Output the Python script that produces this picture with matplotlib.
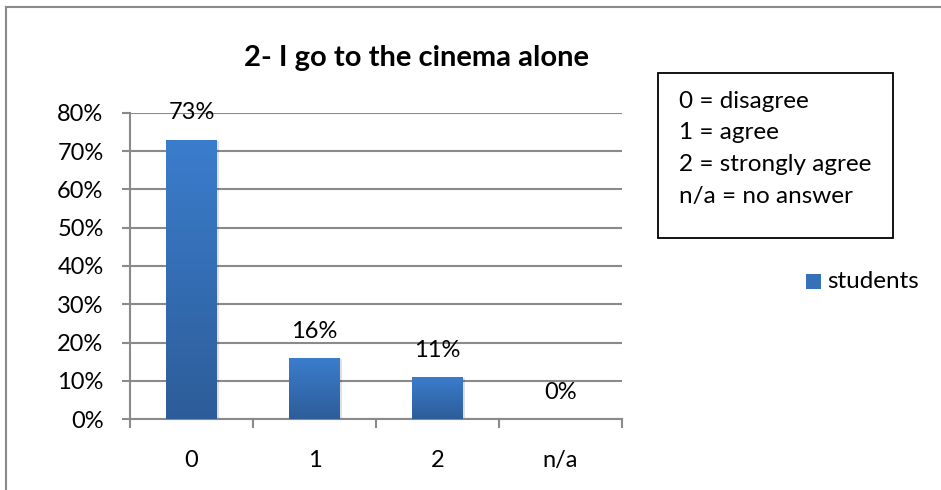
import numpy as np
import matplotlib
matplotlib.use("Agg")
import matplotlib.pyplot as plt
from matplotlib.patches import Rectangle
from matplotlib.colors import LinearSegmentedColormap
from matplotlib.lines import Line2D

categories = ["0", "1", "2", "n/a"]
values = [73, 16, 11, 0]
value_labels = ["73%", "16%", "11%", "0%"]
yticks = [0, 10, 20, 30, 40, 50, 60, 70, 80]
series_name = "students"
title = "2- I go to the cinema alone"
key_lines = ["0 = disagree", "1 = agree", "2 = strongly agree", "n/a = no answer"]

plt.rcParams['font.family'] = ['Lato', 'DejaVu Sans']

W, H = 941, 490
fig = plt.figure(figsize=(W / 100, H / 100), dpi=100)
fig.patch.set_facecolor("white")

# outer chart frame (left and top edges visible)
fig.add_artist(Line2D([6 / W, 6 / W], [0, 1 - 7 / H], transform=fig.transFigure,
                      color="#8a8a8a", lw=1.5))
fig.add_artist(Line2D([6 / W, 1], [1 - 7 / H, 1 - 7 / H], transform=fig.transFigure,
                      color="#8a8a8a", lw=1.5))

left, right = 130, 622
bottom, top = 419, 113
ax = fig.add_axes([left / W, 1 - bottom / H, (right - left) / W, (bottom - top) / H])
ax.set_xlim(-0.5, len(categories) - 0.5)
ax.set_ylim(0, 80)

FS = 17
ax.set_yticks(yticks)
ax.set_yticklabels([f"{t}%" for t in yticks], fontsize=FS)
ax.set_xticks(range(len(categories)))
ax.set_xticklabels(categories, fontsize=FS)
ax.tick_params(axis="x", length=0, pad=22)
ax.tick_params(axis="y", length=6, color="#8a8a8a", width=1.5, pad=13)

# category boundary ticks below the axis
for b in np.arange(-0.5, len(categories), 1.0):
    ax.plot([b, b], [0, -2.1], color="#8a8a8a", lw=1.5, clip_on=False)

ax.grid(axis="y", color="#8a8a8a", lw=1.5)
ax.set_axisbelow(True)
for s in ["top", "right"]:
    ax.spines[s].set_visible(False)
for s in ["left", "bottom"]:
    ax.spines[s].set_color("#8a8a8a")
    ax.spines[s].set_linewidth(1.5)

cmap = LinearSegmentedColormap.from_list("bar", ["#2d5d99", "#3b7dcd"])
grad = np.linspace(0, 1, 256).reshape(-1, 1)
bw = 0.41
for i, v in enumerate(values):
    if v <= 0:
        continue
    # soft shadow
    ax.add_patch(Rectangle((i - bw / 2 + 0.02, -0.4), bw, v, color="#000000",
                           alpha=0.12, lw=0, zorder=2))
    rect = Rectangle((i - bw / 2, 0), bw, v, facecolor="none", lw=0, zorder=3)
    ax.add_patch(rect)
    im = ax.imshow(grad, extent=[i - bw / 2, i + bw / 2, 0, v], origin="lower",
                   cmap=cmap, aspect="auto", zorder=3)
    im.set_clip_path(rect)

for i, (v, lab) in enumerate(zip(values, value_labels)):
    ax.text(i, v + 7, lab, ha="center", va="center", fontsize=FS, color="black")

ax.set_xlim(-0.5, len(categories) - 0.5)
ax.set_ylim(0, 80)

fig.text(416 / W, 1 - 58 / H, title, ha="center", va="center", fontsize=21,
         fontweight="bold")

# key box
fig.add_artist(Rectangle((658 / W, 1 - 238 / H), (893 - 658) / W, (238 - 73) / H,
                         transform=fig.transFigure, facecolor="white",
                         edgecolor="black", lw=1.3))
for k, line in enumerate(key_lines):
    fig.text(679 / W, 1 - (101 + k * 31.7) / H, line, ha="left", va="center",
             fontsize=17.5)

# series legend
fig.add_artist(Rectangle((806 / W, 1 - 289 / H), 15 / W, 15 / H,
                         transform=fig.transFigure, facecolor="#3570b8", lw=0))
fig.text(827 / W, 1 - 281 / H, series_name, ha="left", va="center", fontsize=17.5)

fig.savefig("out.png", dpi=100)
